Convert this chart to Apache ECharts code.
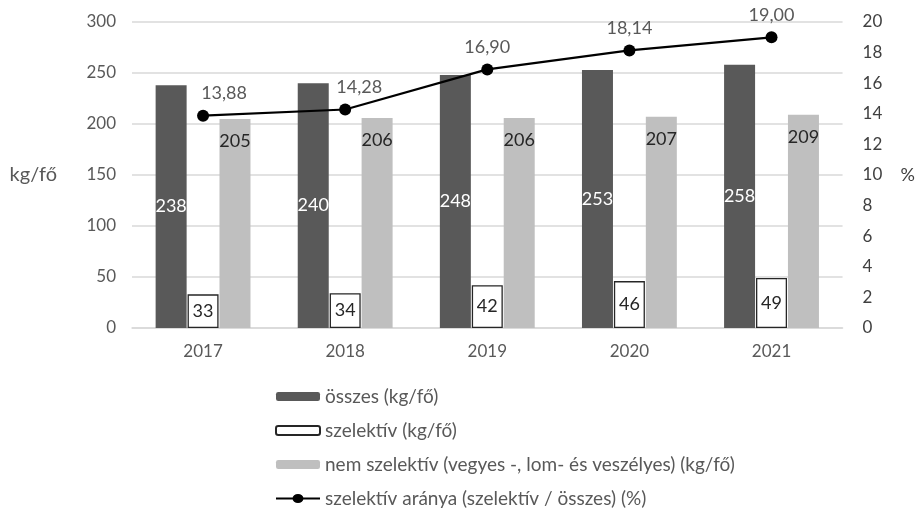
<!DOCTYPE html>
<html>
<head>
<meta charset="utf-8">
<script src="https://cdn.jsdelivr.net/npm/echarts@6/dist/echarts.min.js"></script>
<style>
  html, body { margin: 0; padding: 0; background: #fff; }
  #chart { width: 918px; height: 517px; }
</style>
</head>
<body>
<div id="chart"></div>
<script>
  const years = ['2017', '2018', '2019', '2020', '2021'];
  const osszes = [238, 240, 248, 253, 258];
  const szelektiv = [33, 34, 42, 46, 49];
  const nemSzelektiv = [205, 206, 206, 207, 209];
  const arany = [13.88, 14.28, 16.90, 18.14, 19.00];
  // label shifts of the line values (the first two sit to the right of the dot)
  const aranyLabelShift = [21, 14, 0, 0, 0];

  const font = 'Lato';
  const grey = '#595959';
  const dark = '#404040';

  // legend icon for the line series: line with a dot in the middle
  const lineIcon = 'path://M0,3.5 H17 V5.5 H0 Z M27,3.5 H44 V5.5 H27 Z M16.5,4.5 A5.5,4.5 0 1 1 27.5,4.5 A5.5,4.5 0 1 1 16.5,4.5 Z';

  const chart = echarts.init(document.getElementById('chart'));

  const option = {
    animation: false,
    textStyle: { fontFamily: font },
    grid: { left: 132, right: 70, top: 22, bottom: 189 },
    legend: {
      orient: 'vertical',
      left: 275,
      top: 387,
      height: 130,
      padding: 0,
      itemWidth: 44,
      itemHeight: 9,
      itemGap: 15,
      textStyle: { fontFamily: font, fontSize: 19, color: grey },
      data: [
        { name: 'összes (kg/fő)' },
        { name: 'szelektív (kg/fő)' },
        { name: 'nem szelektív (vegyes -, lom- és veszélyes) (kg/fő)' },
        { name: 'szelektív aránya (szelektív / összes) (%)', icon: lineIcon }
      ]
    },
    xAxis: {
      type: 'category',
      data: years,
      axisTick: { show: false },
      axisLine: { lineStyle: { color: '#d9d9d9', width: 1.5 } },
      axisLabel: { color: grey, fontSize: 17, margin: 15 }
    },
    yAxis: [
      {
        type: 'value',
        min: 0,
        max: 300,
        interval: 50,
        name: 'kg/fő',
        nameLocation: 'middle',
        nameRotate: 0,
        nameGap: 75,
        nameTextStyle: { color: grey, fontSize: 20 },
        axisLabel: { color: grey, fontSize: 17, margin: 16 },
        splitLine: { lineStyle: { color: '#d9d9d9', width: 1.5 } },
        axisLine: { show: false },
        axisTick: { show: false }
      },
      {
        type: 'value',
        min: 0,
        max: 20,
        interval: 2,
        name: '%',
        nameLocation: 'middle',
        nameRotate: 0,
        nameGap: 58,
        nameTextStyle: { color: dark, fontSize: 18 },
        axisLabel: { color: dark, fontSize: 17, margin: 20 },
        splitLine: { show: false },
        axisLine: { show: false },
        axisTick: { show: false }
      }
    ],
    series: [
      {
        name: 'összes (kg/fő)',
        type: 'bar',
        data: osszes,
        barWidth: 31,
        barGap: '3%',
        itemStyle: { color: '#595959' },
        label: {
          show: true,
          position: 'inside',
          color: '#fff',
          fontSize: 18
        }
      },
      {
        name: 'szelektív (kg/fő)',
        type: 'bar',
        data: szelektiv,
        barWidth: 31,
        barGap: '3%',
        itemStyle: { color: '#fff', borderColor: '#262626', borderWidth: 1.3 },
        label: {
          show: true,
          position: 'inside',
          color: '#262626',
          fontSize: 18
        }
      },
      {
        name: 'nem szelektív (vegyes -, lom- és veszélyes) (kg/fő)',
        type: 'bar',
        data: nemSzelektiv,
        barWidth: 31,
        barGap: '3%',
        itemStyle: { color: '#bfbfbf' },
        label: {
          show: true,
          position: 'insideTop',
          distance: 13,
          color: '#262626',
          fontSize: 18
        }
      },
      {
        name: 'szelektív aránya (szelektív / összes) (%)',
        type: 'line',
        yAxisIndex: 1,
        data: arany.map((v, i) => ({ value: v, label: { offset: [aranyLabelShift[i], 0] } })),
        symbol: 'circle',
        symbolSize: 12,
        itemStyle: { color: '#000' },
        lineStyle: { color: '#000', width: 2.2 },
        z: 5,
        label: {
          show: true,
          position: 'top',
          distance: 7,
          color: grey,
          fontSize: 18,
          formatter: p => p.value.toFixed(2).replace('.', ',')
        }
      }
    ]
  };

  chart.setOption(option);
</script>
</body>
</html>
